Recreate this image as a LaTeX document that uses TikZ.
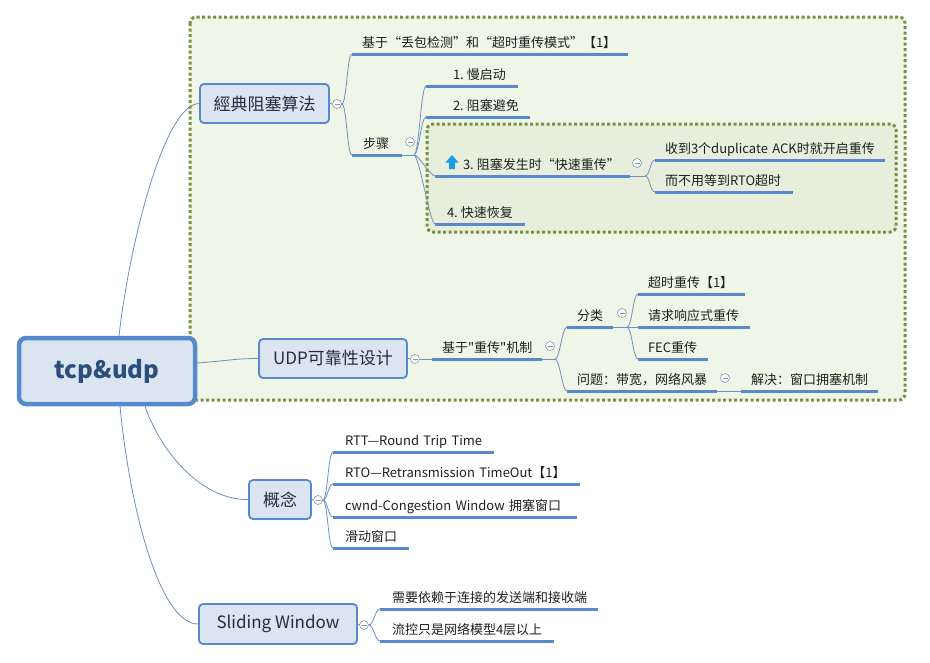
\documentclass[tikz,border=0pt]{standalone}
\usepackage{fontspec}
\setmainfont{Noto Sans CJK SC}
\newcommand\strq{{\addfontfeatures{Ligatures=TeXOff}\char34}}
\usetikzlibrary{calc}
\definecolor{ulblue}{RGB}{86,138,204}
\definecolor{lnk}{RGB}{110,143,192}
\definecolor{boxblue}{RGB}{86,138,204}
\definecolor{boxfill}{RGB}{219,229,241}
\definecolor{topictext}{RGB}{35,45,60}
\definecolor{roottext}{RGB}{44,78,125}
\definecolor{knobc}{RGB}{130,150,180}
\definecolor{framedot}{RGB}{120,145,62}
\definecolor{framefill}{RGB}{239,245,231}
\definecolor{innerfill}{RGB}{231,239,220}
\definecolor{icon}{RGB}{30,156,230}
\pgfdeclarelayer{frames}
\pgfdeclarelayer{links}
\pgfsetlayers{frames,links,main}
\begin{document}
\begin{tikzpicture}[x=1pt,y=-1pt,
  conn/.style={draw=lnk, line width=0.8pt},
  ul/.style={anchor=south west, inner sep=0pt, outer sep=0pt, text depth=7pt,
    align=left, font=\fontsize{13}{15}\selectfont, text={black!88},
    execute at begin node={\hspace*{#1}\hbox\bgroup}, execute at end node={\egroup}},
  ul/.default=10pt,
  uline/.style={draw=ulblue, line width=3pt},
  topic/.style={draw=boxblue, fill=boxfill, line width=1.8pt, rounded corners=4pt,
    inner sep=0pt, font=\fontsize{17}{20}\selectfont, text=topictext},
  rootbox/.style={draw=boxblue, fill=boxfill, line width=4.5pt, rounded corners=7pt,
    inner sep=0pt, font=\fontsize{24}{28}\selectfont\bfseries, text=roottext},
  knob/.style={circle, draw=knobc, fill=white, line width=0.6pt, minimum size=9pt,
    inner sep=0pt, path picture={\draw[knobc, line width=0.6pt]
      ([xshift=-2.5pt]path picture bounding box.center) --
      ([xshift=2.5pt]path picture bounding box.center);}},
  xbr/.style={to path={.. controls ($(\tikztostart)+(5,0)$) and ($(\tikztotarget)+(-5,0)$) .. (\tikztotarget)}},
]
\useasboundingbox (0,0) rectangle (930,662);
% frames
\begin{pgfonlayer}{frames}
\fill[framefill, rounded corners=6pt] (190,17) rectangle (905,400);
\draw[framedot, line width=3pt, dash pattern=on 3pt off 2.5pt, rounded corners=6pt] (190,17) rectangle (905,400);
\fill[innerfill, rounded corners=6pt] (427,124) rectangle (896,232);
\draw[framedot, line width=3pt, dash pattern=on 3pt off 2.5pt, rounded corners=6pt] (427,124) rectangle (896,232);
\end{pgfonlayer}

% root and main topics
\node[rootbox, minimum width=176pt, minimum height=66pt] (R) at (107,371) {tcp\&udp};
\node[topic, minimum width=129pt, minimum height=39pt] (A) at (264.5,103.5) {經典阻塞算法};
\node[topic, minimum width=148pt, minimum height=39pt] (B) at (333,358.5) {UDP可靠性设计};
\node[topic, minimum width=62pt, minimum height=39pt] (C) at (280,499.5) {概念};
\node[topic, minimum width=158pt, minimum height=40pt] (D) at (278,624) {Sliding Window};

% subtopics of A
\node[ul, text width=276pt] (A1) at (352,54) {基于“丢包检测”和“超时重传模式”【1】};
\node[ul=11pt, text width=50pt] (A2) at (352,155) {步骤};
\node[ul=27pt, text width=92pt] (A2a) at (426,86) {1.\kern3pt慢启动};
\node[ul=27pt, text width=104pt] (A2b) at (426,117) {2.\kern3pt阻塞避免};
\node[ul=28pt, text width=195pt] (A2c) at (435,176) {3.\kern3pt阻塞发生时“快速重传”};
\node[ul, text width=230pt] (A2c1) at (655,160) {收到3个duplicate ACK时就开启重传};
\node[ul, text width=138pt] (A2c2) at (655,192) {而不用等到RTO超时};
\node[ul=12pt, text width=90pt] (A2d) at (435,224) {4.\kern3pt快速恢复};
% subtopics of B
\node[ul, text width=110pt] (B1) at (432,359) {基于\strq 重传\strq 机制};
\node[ul, text width=46pt] (B1a) at (567,327) {分类};
\node[ul, text width=107pt] (B1a1) at (638,294) {超时重传【1】};
\node[ul, text width=112pt] (B1a2) at (638,327) {请求响应式重传};
\node[ul, text width=70pt] (B1a3) at (638,359) {FEC重传};
\node[ul, text width=150pt] (B1b) at (567,391) {问题：带宽，网络风暴};
\node[ul, text width=137pt] (B1b1) at (741,391) {解决：窗口拥塞机制};
% subtopics of C
\node[ul=12pt, text width=161pt] (C1) at (333,452) {RTT—Round Trip Time};
\node[ul=12pt, text width=247pt] (C2) at (333,484) {RTO—Retransmission TimeOut【1】};
\node[ul=12pt, text width=244pt] (C3) at (333,517) {cwnd-Congestion Window 拥塞窗口};
\node[ul=12pt, text width=76pt] (C4) at (333,548) {滑动窗口};
% subtopics of D
\node[ul=12pt, text width=218pt] (D1) at (380,609) {需要依赖于连接的发送端和接收端};
\node[ul=12pt, text width=174pt] (D2) at (380,641) {流控只是网络模型4层以上};

% underlines
\foreach \n in {A1,A2,A2a,A2b,A2c,A2c1,A2c2,A2d,B1,B1a,B1a1,B1a2,B1a3,B1b,B1b1,C1,C2,C3,C4,D1,D2}
  \draw[uline] (\n.south west) -- (\n.south east);

% icon
\fill[icon, shift={(A2c.south west)}] (17,-21) -- (23.5,-13.5) -- (19.8,-13.5) -- (19.8,-7) -- (14.2,-7) -- (14.2,-13.5) -- (10.5,-13.5) -- cycle;

% knobs
\node[knob] (cA) at (337,104) {};
\node[knob] (cB) at (415,359) {};
\node[knob] (cC) at (318,500) {};
\node[knob] (cD) at (364,625) {};
\node[knob] (cA2) at (410,142) {};
\node[knob] (cA2c) at (637,163) {};
\node[knob] (cB1) at (550,346) {};
\node[knob] (cB1a) at (622,313) {};
\node[knob] (cB1b) at (725,378) {};

% branch points
\coordinate (bA2) at (414,155);
\coordinate (bA2c) at (645,176);
\coordinate (bB1) at (555,359);
\coordinate (bB1a) at (627,327);

\begin{pgfonlayer}{links}
% root connectors
\draw[conn] ([xshift=12pt]R.north) .. controls (130,240) and (165,104) .. (A.west);
\draw[conn] ([yshift=8pt]R.east) .. controls (225,361) and (235,358.5) .. (B.west);
\draw[conn] ([xshift=38pt]R.south) .. controls (160,450) and (200,500) .. (C.west);
\draw[conn] ([xshift=13pt]R.south) .. controls (130,510) and (160,624) .. (D.west);
% topic to knob
\draw[conn] (A.east) -- (cA.west);
\draw[conn] (B.east) -- (cB.west);
\draw[conn] (C.east) -- (cC.west);
\draw[conn] (D.east) -- (cD.west);
% A
\draw[conn] (cA.east) to[xbr] (A1.south west);
\draw[conn] (cA.east) to[xbr] (A2.south west);
\draw[conn] (A2.south east) -- (bA2);
\draw[conn] (bA2) to[xbr] (A2a.south west);
\draw[conn] (bA2) to[xbr] (A2b.south west);
\draw[conn] (bA2) to[xbr] (A2c.south west);
\draw[conn] (bA2) to[xbr] (A2d.south west);
\draw[conn] (A2c.south east) -- (bA2c);
\draw[conn] (bA2c) to[xbr] (A2c1.south west);
\draw[conn] (bA2c) to[xbr] (A2c2.south west);
% B
\draw[conn] (cB.east) -- (B1.south west);
\draw[conn] (B1.south east) -- (bB1);
\draw[conn] (bB1) to[xbr] (B1a.south west);
\draw[conn] (bB1) to[xbr] (B1b.south west);
\draw[conn] (B1a.south east) -- (bB1a);
\draw[conn] (bB1a) to[xbr] (B1a1.south west);
\draw[conn] (bB1a) -- (B1a2.south west);
\draw[conn] (bB1a) to[xbr] (B1a3.south west);
\draw[conn] (B1b.south east) -- (B1b1.south west);
% C
\draw[conn] (cC.east) to[xbr] (C1.south west);
\draw[conn] (cC.east) to[xbr] (C2.south west);
\draw[conn] (cC.east) to[xbr] (C3.south west);
\draw[conn] (cC.east) to[xbr] (C4.south west);
% D
\draw[conn] (cD.east) to[xbr] (D1.south west);
\draw[conn] (cD.east) to[xbr] (D2.south west);
\end{pgfonlayer}
\end{tikzpicture}
\end{document}
